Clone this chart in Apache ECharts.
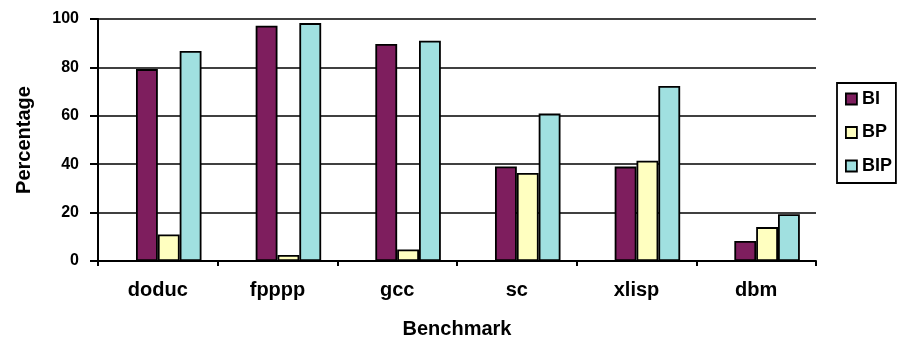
<!DOCTYPE html>
<html>
<head>
<meta charset="utf-8">
<script src="https://cdn.jsdelivr.net/npm/echarts@6/dist/echarts.min.js"></script>
<style>
  html, body { margin: 0; padding: 0; background: #ffffff; }
  #chart { width: 899px; height: 345px; }
</style>
</head>
<body>
<div id="chart"></div>
<script>
// Benchmark categories and per-scheme percentages
const benchmarks = ['doduc', 'fpppp', 'gcc', 'sc', 'xlisp', 'dbm'];
const valuesBI  = [79.3, 97.2, 89.7, 39.1, 39.0, 8.3];
const valuesBP  = [11.0, 2.5, 4.8, 36.4, 41.4, 14.0];
const valuesBIP = [86.8, 98.3, 91.0, 60.9, 72.3, 19.3];
// empty leading slot in each group (no values plotted)
const emptySlot = [null, null, null, null, null, null];
const yTicks = { min: 0, max: 100, step: 20 };

const FONT = '"Liberation Sans", Arial, Helvetica, sans-serif';
const chart = echarts.init(document.getElementById('chart'), null, { renderer: 'canvas' });

function barSeries(name, data, color) {
  return {
    name: name,
    type: 'bar',
    data: data,
    barGap: '0%',
    barCategoryGap: '27%',
    itemStyle: { color: color, borderColor: '#000000', borderWidth: 1.8 },
    emphasis: { disabled: true },
    animation: false
  };
}

chart.setOption({
  backgroundColor: '#ffffff',
  animation: false,
  textStyle: { fontFamily: FONT },
  grid: { left: 98, right: 83, top: 19, bottom: 84, containLabel: false },
  legend: {
    data: ['BI', 'BP', 'BIP'],
    orient: 'vertical',
    left: 837,
    top: 83,
    padding: [6, 4, 7, 8],
    itemGap: 13.5,
    itemWidth: 11,
    itemHeight: 11,
    itemTextGap: 4,
    icon: 'rect',
    borderColor: '#000000',
    borderWidth: 1.8,
    selectedMode: false,
    itemStyle: { borderColor: '#000000', borderWidth: 1.8 },
    textStyle: { fontFamily: FONT, fontWeight: 'bold', fontSize: 18, color: '#000000', lineHeight: 20 }
  },
  xAxis: {
    type: 'category',
    data: benchmarks,
    boundaryGap: true,
    name: 'Benchmark',
    nameLocation: 'middle',
    nameGap: 58,
    nameTextStyle: { fontFamily: FONT, fontWeight: 'bold', fontSize: 20, color: '#000000' },
    axisLine: { show: true, lineStyle: { color: '#000000', width: 2 } },
    axisTick: { show: true, length: 5, lineStyle: { color: '#000000', width: 2 } },
    axisLabel: { margin: 19, fontFamily: FONT, fontWeight: 'bold', fontSize: 20, color: '#000000' },
    splitLine: { show: false }
  },
  yAxis: {
    type: 'value',
    min: yTicks.min,
    max: yTicks.max,
    interval: yTicks.step,
    name: 'Percentage',
    nameLocation: 'middle',
    nameGap: 64,
    nameTextStyle: { fontFamily: FONT, fontWeight: 'bold', fontSize: 20, color: '#000000' },
    axisLine: { show: true, lineStyle: { color: '#000000', width: 2 } },
    axisTick: { show: true, length: 8, lineStyle: { color: '#000000', width: 2 } },
    axisLabel: { margin: 19, fontFamily: FONT, fontWeight: 'bold', fontSize: 16, color: '#000000' },
    splitLine: { show: true, lineStyle: { color: '#000000', width: 1.5 } }
  },
  tooltip: { show: false },
  series: [
    barSeries('slot', emptySlot, 'rgba(0,0,0,0)'),
    barSeries('BI', valuesBI, '#7E1E5E'),
    barSeries('BP', valuesBP, '#FFFFC0'),
    barSeries('BIP', valuesBIP, '#A0E0E0')
  ]
});
</script>
</body>
</html>
